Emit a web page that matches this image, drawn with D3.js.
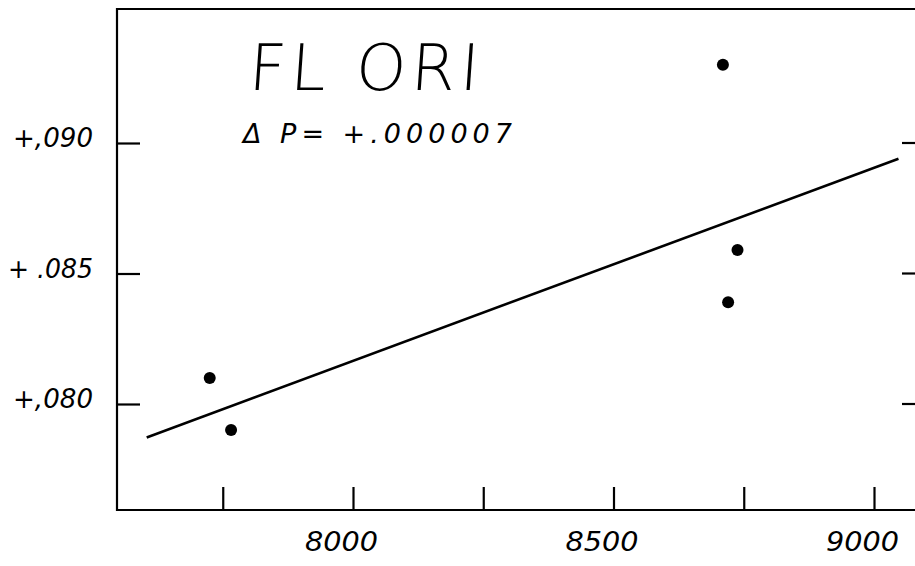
<!DOCTYPE html>
<html>
<head>
<meta charset="utf-8">
<script src="https://cdn.jsdelivr.net/npm/d3@7/dist/d3.min.js"></script>
<style>
  html, body { margin: 0; padding: 0; background: #fff; }
  svg { display: block; }
  text { font-family: "DejaVu Sans", sans-serif; fill: #000; }
</style>
</head>
<body>
<svg id="chart" width="915" height="566"></svg>
<script>
// O-C residuals of FL Ori against epoch, with the linear period-correction fit
const epochs    = [7725, 7766, 8710, 8738, 8720];
const residuals = [0.0810, 0.0790, 0.0930, 0.0859, 0.0839];

// fitted line: value at epoch 8000 and slope per cycle
const fitEpochs = [7604, 9047];
const fitAt8000 = 0.08165;
const fitSlope  = 0.0000074;

const xTickValues = [7750, 8000, 8250, 8500, 8750, 9000];
const xTickLabels = { 8000: "8000", 8500: "8500", 9000: "9000" };
const yTickValues = [0.090, 0.085, 0.080];
const yTickLabels = ["+,090", "+ .085", "+,080"];

const titleText = "FL ORI";
const deltaText = "\u0394 P= +.000007";

const W = 915, H = 566;
const plot = { left: 117, top: 9, right: 927, bottom: 510 };

const svg = d3.select("#chart");

const x = d3.scaleLinear().domain([8000, 9000]).range([353, 874]);
const y = d3.scaleLinear().domain([0.080, 0.090]).range([404, 143]);

// frame: top, left and bottom edges
svg.append("path")
  .attr("d", `M${plot.right},${plot.top}L${plot.left},${plot.top}L${plot.left},${plot.bottom}L${plot.right},${plot.bottom}`)
  .attr("fill", "none").attr("stroke", "#000").attr("stroke-width", 2.2);

// bottom axis with inward ticks
const xAxis = d3.axisBottom(x)
  .tickValues(xTickValues)
  .tickSize(-23)
  .tickPadding(27)
  .tickFormat(d => xTickLabels[d] || "");
const gx = svg.append("g").attr("transform", `translate(0,${plot.bottom})`).call(xAxis);
gx.select(".domain").remove();
gx.selectAll(".tick line").attr("stroke", "#000").attr("stroke-width", 2.2);
gx.selectAll(".tick text")
  .attr("font-size", 27).attr("font-style", "italic")
  .attr("dx", -12).attr("dy", "0.5em")
  .attr("textLength", d => xTickLabels[d] ? 73 : null)
  .attr("lengthAdjust", "spacingAndGlyphs");

// left axis with inward ticks
const yAxis = d3.axisLeft(y)
  .tickValues(yTickValues)
  .tickSize(-23)
  .tickPadding(24)
  .tickFormat((d, i) => yTickLabels[i]);
const gy = svg.append("g").attr("transform", `translate(${plot.left},0)`).call(yAxis);
gy.select(".domain").remove();
gy.selectAll(".tick line").attr("stroke", "#000").attr("stroke-width", 2.2);
gy.selectAll(".tick text")
  .attr("font-size", 26).attr("font-style", "italic")
  .attr("dy", "0.15em")
  .attr("textLength", (d, i) => i === 1 ? 85 : 80)
  .attr("lengthAdjust", "spacingAndGlyphs");

// right-hand ticks (axis sits just past the visible edge)
svg.append("g").selectAll("line").data(yTickValues).join("line")
  .attr("x1", W - 13).attr("x2", W)
  .attr("y1", d => y(d)).attr("y2", d => y(d))
  .attr("stroke", "#000").attr("stroke-width", 2.2);

// fitted line
const fitLine = d3.line()
  .x(d => x(d))
  .y(d => y(fitAt8000 + fitSlope * (d - 8000)));
svg.append("path")
  .datum(fitEpochs)
  .attr("d", fitLine)
  .attr("fill", "none").attr("stroke", "#000").attr("stroke-width", 2.6);

// observations
svg.append("g").selectAll("circle").data(epochs).join("circle")
  .attr("cx", d => x(d))
  .attr("cy", (d, i) => y(residuals[i]))
  .attr("r", 6)
  .attr("fill", "#000");

// star name and period correction
svg.append("text")
  .attr("x", 248).attr("y", 90)
  .attr("font-size", 64).attr("font-weight", 300)
  .attr("font-family", "Lato, 'Open Sans', sans-serif")
  .attr("transform", "skewX(-4)")
  .attr("dx", 6)
  .attr("textLength", 230).attr("lengthAdjust", "spacing")
  .text(titleText);

svg.append("text")
  .attr("x", 243).attr("y", 143)
  .attr("font-size", 27).attr("font-style", "italic")
  .attr("textLength", 269).attr("lengthAdjust", "spacing")
  .text(deltaText);
</script>
</body>
</html>
